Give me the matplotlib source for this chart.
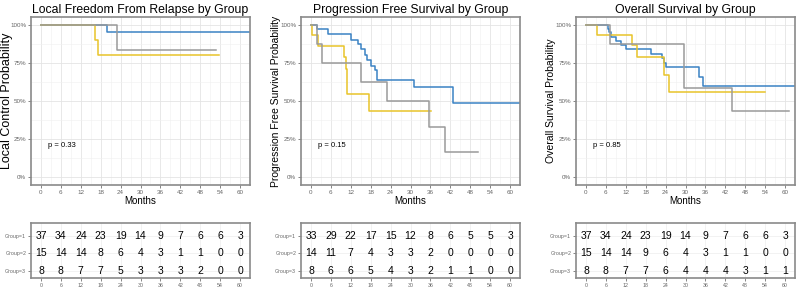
import numpy as np
import matplotlib
matplotlib.use('Agg')
import matplotlib.pyplot as plt
from matplotlib.ticker import MultipleLocator

plt.rcParams['font.family'] = ['Liberation Sans', 'DejaVu Sans']

# ---- data ----
titles = ['Local Freedom From Relapse by Group', 'Progression Free Survival by Group',
          'Overall Survival by Group']
ylabels = ['Local Control Probability', 'Progression Free Survival Probability',
           'Overall Survival Probability']
pvals = ['p = 0.33', 'p = 0.15', 'p = 0.85']
groups = ['Group=1', 'Group=2', 'Group=3']
risk_times = [0, 6, 12, 18, 24, 30, 36, 42, 48, 54, 60]

# local control
lc_t1 = [0, 19.8, 66]
lc_s1 = [1, 0.952, 0.952]
lc_t2 = [0, 16.3, 17.3, 53.6]
lc_s2 = [1, 0.9, 0.8, 0.8]
lc_t3 = [0, 23, 52.7]
lc_s3 = [1, 0.833, 0.833]

# progression free survival
pfs_t1 = [0, 1.8, 5, 12.2, 14.1, 15.2, 16.2, 16.9, 18.2, 19.2, 20, 31.2, 42.9, 66]
pfs_s1 = [1, 0.97, 0.94, 0.90, 0.87, 0.84, 0.80, 0.77, 0.73, 0.70, 0.64, 0.59, 0.49, 0.49]
pfs_t2 = [0, 0.3, 2.1, 10.0, 10.6, 10.9, 17.4, 36.2]
pfs_s2 = [1, 0.93, 0.857, 0.786, 0.71, 0.545, 0.437, 0.437]
pfs_t3 = [0, 1.7, 3.2, 15.2, 22.9, 35.7, 40.5, 50.4]
pfs_s3 = [1, 0.875, 0.75, 0.625, 0.5, 0.333, 0.167, 0.167]

# overall survival
os_t1 = [0, 6.5, 7.0, 7.5, 9.0, 10.5, 12, 19.6, 22.9, 23.4, 24.1, 34, 35.3, 66]
os_s1 = [1, 0.97, 0.95, 0.92, 0.89, 0.865, 0.84, 0.81, 0.78, 0.75, 0.72, 0.66, 0.60, 0.60]
os_t2 = [0, 3.2, 13.8, 15.3, 23.4, 24.9, 54.1]
os_s2 = [1, 0.933, 0.867, 0.786, 0.67, 0.56, 0.56]
os_t3 = [0, 7.1, 29.4, 44, 61.2]
os_s3 = [1, 0.875, 0.583, 0.437, 0.437]

lc_risk = [[37, 34, 24, 23, 19, 14, 9, 7, 6, 6, 3],
           [15, 14, 14, 8, 6, 4, 3, 1, 1, 0, 0],
           [8, 8, 7, 7, 5, 3, 3, 3, 2, 0, 0]]
pfs_risk = [[33, 29, 22, 17, 15, 12, 8, 6, 5, 5, 3],
            [14, 11, 7, 4, 3, 3, 2, 0, 0, 0, 0],
            [8, 6, 6, 5, 4, 3, 2, 1, 1, 0, 0]]
os_risk = [[37, 34, 24, 23, 19, 14, 9, 7, 6, 6, 3],
           [15, 14, 14, 9, 6, 4, 3, 1, 1, 0, 0],
           [8, 8, 7, 7, 6, 4, 4, 4, 3, 1, 1]]

curves = [[(lc_t1, lc_s1), (lc_t2, lc_s2), (lc_t3, lc_s3)],
          [(pfs_t1, pfs_s1), (pfs_t2, pfs_s2), (pfs_t3, pfs_s3)],
          [(os_t1, os_s1), (os_t2, os_s2), (os_t3, os_s3)]]
risks = [lc_risk, pfs_risk, os_risk]

colors = ['#3a82c4', '#e8c42a', '#9a9a9a']
W, H = 796, 292
lefts = [31, 301, 576]
aw = 219
ylab_size = [9, 7.5, 7.5]
ylab_x = [-0.11, -0.114, -0.114]

fig = plt.figure(figsize=(W / 100, H / 100), dpi=100)


def frame(ax):
    for s in ax.spines.values():
        s.set_color('#8a8a8a')
        s.set_linewidth(1.2)
    ax.tick_params(colors='#555555', labelcolor='#666666', length=2, width=0.5,
                   labelsize=4.5, pad=1.5)


for k in range(3):
    ax = fig.add_axes([lefts[k] / W, (H - 185) / H, aw / W, 168 / H])
    for g in range(3):
        t, s = curves[k][g]
        ax.step(t, s, where='post', color=colors[g], lw=1.1)
    ax.set_xlim(-3, 63)
    ax.set_ylim(-0.05, 1.05)
    ax.xaxis.set_major_locator(MultipleLocator(6))
    ax.xaxis.set_minor_locator(MultipleLocator(3))
    ax.yaxis.set_minor_locator(MultipleLocator(0.125))
    ax.set_yticks([0, 0.25, 0.5, 0.75, 1.0])
    ax.set_yticklabels(['0%', '25%', '50%', '75%', '100%'])
    ax.grid(which='major', color='#e4e4e4', lw=0.6)
    ax.grid(which='minor', color='#f0f0f0', lw=0.4)
    ax.tick_params(which='minor', length=0)
    frame(ax)
    ax.set_title(titles[k], fontsize=8.8, pad=3)
    ax.set_ylabel(ylabels[k], fontsize=ylab_size[k])
    ax.yaxis.label.set_va('center')
    ax.yaxis.set_label_coords(ylab_x[k], 0.5)
    ax.set_xlabel('Months', fontsize=7, labelpad=0.5)
    ax.text(2, 0.2, pvals[k], fontsize=5.5)

    rt = fig.add_axes([lefts[k] / W, (H - 278) / H, aw / W, 55 / H])
    for g in range(3):
        for x, n in zip(risk_times, risks[k][g]):
            rt.text(x, g + 1, str(n), ha='center', va='center', fontsize=7.5)
    rt.set_xlim(-3, 63)
    rt.set_ylim(3.42, 0.27)
    rt.set_xticks(risk_times)
    rt.set_yticks([1, 2, 3])
    rt.set_yticklabels(groups)
    for lab, c in zip(rt.get_yticklabels(), colors):
        lab.set_color(c)
    rt.grid(color='#ededed', lw=0.5)
    frame(rt)
    rt.tick_params(labelsize=3.8)

fig.savefig('out.png', dpi=100)
